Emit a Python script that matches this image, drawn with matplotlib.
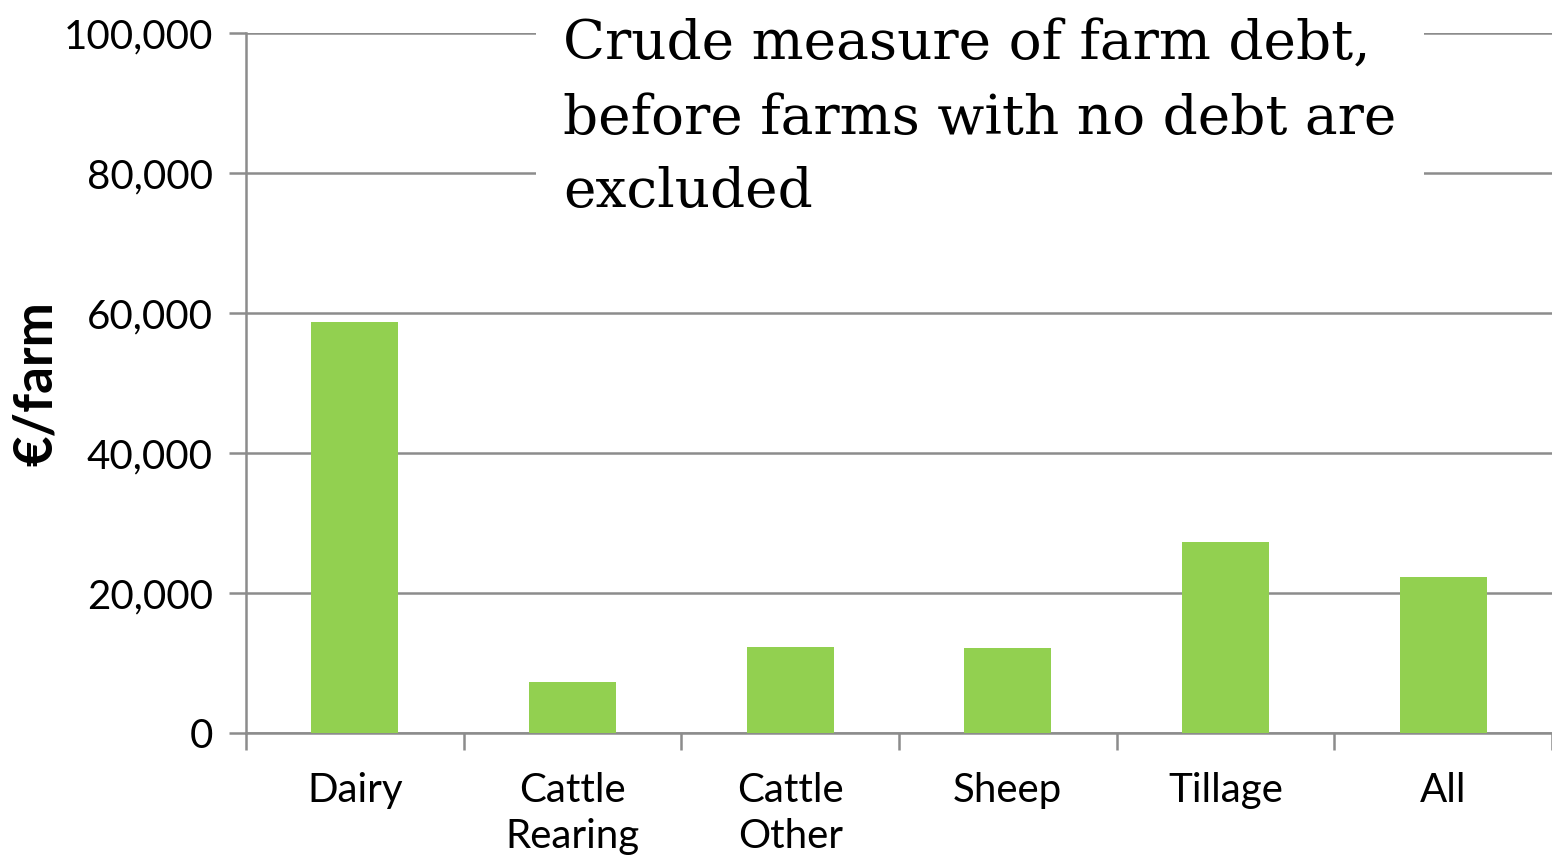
import matplotlib.pyplot as plt
from matplotlib.ticker import FuncFormatter

categories = ["Dairy", "Cattle\nRearing", "Cattle\nOther", "Sheep", "Tillage", "All"]
debt_per_farm = [58700, 7300, 12300, 12200, 27300, 22300]
y_ticks = [0, 20000, 40000, 60000, 80000, 100000]
title_text = "Crude measure of farm debt,\nbefore farms with no debt are\nexcluded"

bar_color = "#92D050"
grid_color = "#8C8C8C"
sans = ["Lato", "DejaVu Sans"]

fig = plt.figure(figsize=(15.52, 8.56), dpi=100)
ax = fig.add_axes([246 / 1552, 1 - 733 / 856, 1 - 246 / 1552, (733 - 33) / 856])

x = list(range(len(categories)))
ax.bar(x, debt_per_farm, width=0.4, color=bar_color, zorder=3)

ax.set_xlim(-0.5, len(categories) - 0.5)
ax.set_ylim(0, 100000)
ax.set_yticks(y_ticks)
ax.yaxis.set_major_formatter(FuncFormatter(lambda v, _: f"{int(v):,}"))
ax.grid(axis="y", color=grid_color, linewidth=1.8, zorder=1)
ax.set_axisbelow(True)

# category boundary ticks on the x axis
ax.set_xticks([i - 0.5 for i in range(len(categories) + 1)])
ax.set_xticklabels([])
ax.set_xticks(x, minor=True)
ax.set_xticklabels(categories, minor=True, fontsize=29, family=sans, linespacing=1.32)
ax.tick_params(axis="x", which="minor", length=0, pad=28)
ax.tick_params(axis="x", which="major", length=12, width=1.8, color=grid_color)
ax.tick_params(axis="y", length=12, width=1.8, color=grid_color, labelsize=29, pad=12)
for lab in ax.get_yticklabels():
    lab.set_family(sans)

for side in ["top", "right"]:
    ax.spines[side].set_visible(False)
ax.spines["left"].set_color(grid_color)
ax.spines["left"].set_linewidth(1.8)
ax.spines["bottom"].set_color(grid_color)
ax.spines["bottom"].set_linewidth(1.8)

fig.text(36 / 1552, 1 - 384 / 856, "€/farm", rotation=90, ha="center", va="center",
         fontsize=38, fontweight="bold", family=sans)

fig.text(563 / 1552, 1 - 19 / 856, title_text, ha="left", va="top",
         fontsize=39.5, family=["DejaVu Serif"], linespacing=1.53, zorder=10,
         bbox=dict(boxstyle="square,pad=0.5", facecolor="white", edgecolor="none"))

fig.savefig("out.png", dpi=100)
